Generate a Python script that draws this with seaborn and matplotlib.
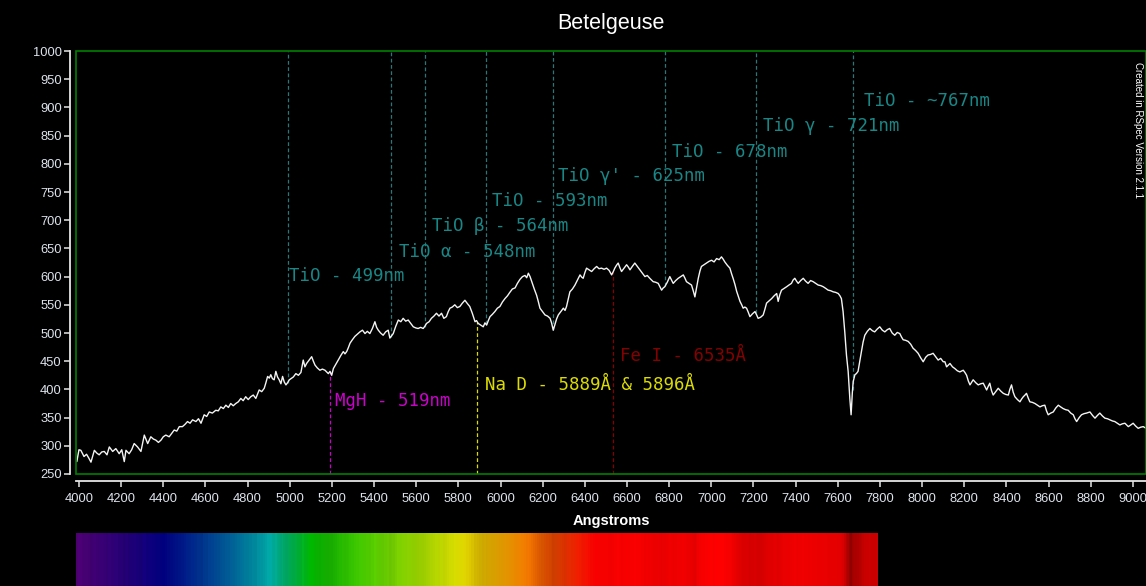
import numpy as np
import matplotlib
matplotlib.use("Agg")
import matplotlib.pyplot as plt
from matplotlib.patches import Rectangle
import seaborn as sns

# Betelgeuse spectrum: wavelength (Angstrom) and relative flux
wavelength = [
    3990, 4000, 4009, 4024, 4036, 4047, 4057, 4073, 4085, 4096, 4108, 4120, 4133, 4144, 4160,
    4175, 4191, 4203, 4215, 4223, 4238, 4250, 4262, 4278, 4294, 4310, 4326, 4341, 4353, 4365,
    4377, 4389, 4400, 4412, 4428, 4440, 4452, 4464, 4476, 4491, 4503, 4515, 4527, 4539, 4555,
    4567, 4579, 4594, 4606, 4618, 4633, 4649, 4661, 4673, 4685, 4697, 4709, 4720, 4732, 4744,
    4756, 4768, 4779, 4791, 4803, 4815, 4827, 4839, 4855, 4867, 4879, 4887, 4895, 4903, 4910,
    4918, 4926, 4934, 4942, 4950, 4958, 4966, 4974, 4982, 4990, 4998, 5009, 5017, 5029, 5041,
    5053, 5064, 5072, 5080, 5092, 5104, 5112, 5120, 5131, 5143, 5155, 5167, 5175, 5183, 5191,
    5199, 5207, 5218, 5230, 5242, 5254, 5262, 5270, 5278, 5286, 5297, 5309, 5321, 5333, 5345,
    5357, 5368, 5380, 5392, 5404, 5412, 5420, 5431, 5443, 5455, 5467, 5475, 5483, 5491, 5503,
    5515, 5527, 5538, 5550, 5562, 5574, 5586, 5598, 5609, 5621, 5633, 5641, 5649, 5661, 5672,
    5684, 5696, 5708, 5720, 5731, 5743, 5752, 5760, 5771, 5783, 5795, 5807, 5819, 5831, 5843,
    5854, 5866, 5879, 5886, 5894, 5906, 5918, 5926, 5934, 5942, 5950, 5961, 5973, 5985, 5997,
    6009, 6021, 6033, 6044, 6056, 6069, 6080, 6092, 6104, 6116, 6124, 6132, 6140, 6148, 6160,
    6171, 6179, 6187, 6199, 6211, 6223, 6235, 6242, 6250, 6258, 6266, 6274, 6286, 6298, 6306,
    6313, 6321, 6329, 6341, 6353, 6365, 6377, 6385, 6392, 6400, 6408, 6420, 6432, 6444, 6456,
    6467, 6479, 6491, 6503, 6515, 6527, 6535, 6542, 6550, 6558, 6566, 6574, 6586, 6598, 6606,
    6614, 6625, 6637, 6649, 6661, 6673, 6685, 6696, 6708, 6716, 6724, 6736, 6748, 6756, 6764,
    6772, 6779, 6791, 6803, 6811, 6819, 6831, 6843, 6855, 6867, 6875, 6882, 6894, 6906, 6914,
    6922, 6930, 6938, 6946, 6953, 6965, 6977, 6989, 7001, 7013, 7025, 7037, 7048, 7056, 7064,
    7076, 7088, 7096, 7104, 7112, 7120, 7128, 7136, 7144, 7151, 7159, 7167, 7175, 7183, 7195,
    7207, 7215, 7222, 7234, 7246, 7254, 7262, 7274, 7286, 7298, 7310, 7317, 7325, 7333, 7345,
    7357, 7368, 7380, 7388, 7396, 7404, 7412, 7424, 7436, 7447, 7459, 7471, 7483, 7495, 7507,
    7519, 7531, 7543, 7554, 7566, 7578, 7590, 7602, 7610, 7617, 7625, 7633, 7641, 7649, 7657,
    7663, 7669, 7673, 7681, 7688, 7696, 7704, 7712, 7720, 7728, 7740, 7752, 7764, 7775, 7787,
    7799, 7811, 7823, 7835, 7846, 7858, 7870, 7882, 7894, 7902, 7910, 7922, 7934, 7946, 7957,
    7969, 7981, 7993, 8005, 8017, 8028, 8040, 8052, 8064, 8076, 8088, 8100, 8108, 8116, 8132,
    8144, 8155, 8167, 8179, 8195, 8203, 8211, 8219, 8227, 8235, 8242, 8254, 8266, 8278, 8290,
    8298, 8306, 8313, 8321, 8329, 8337, 8349, 8361, 8373, 8385, 8397, 8409, 8416, 8424, 8432,
    8440, 8452, 8464, 8472, 8480, 8488, 8495, 8503, 8511, 8523, 8535, 8547, 8559, 8570, 8582,
    8590, 8598, 8610, 8622, 8634, 8646, 8657, 8669, 8681, 8693, 8705, 8717, 8725, 8733, 8745,
    8756, 8768, 8780, 8788, 8796, 8808, 8820, 8832, 8843, 8855, 8867, 8879, 8891, 8903, 8914,
    8926, 8938, 8950, 8962, 8970, 8978, 8990, 9001, 9013, 9025, 9037, 9049, 9062,
]
flux = [
    272, 293, 292, 281, 285, 278, 271, 292, 287, 284, 289, 290, 284, 298, 290,
    295, 286, 293, 272, 292, 286, 293, 304, 298, 290, 319, 304, 316, 312, 310,
    306, 310, 316, 319, 316, 322, 328, 326, 334, 334, 338, 343, 340, 346, 343,
    348, 340, 355, 352, 360, 358, 363, 362, 369, 366, 372, 368, 375, 371, 375,
    378, 384, 380, 387, 382, 387, 390, 384, 399, 396, 402, 412, 423, 420, 426,
    419, 417, 432, 422, 417, 410, 423, 413, 408, 412, 417, 420, 422, 428, 425,
    430, 452, 440, 446, 452, 458, 450, 443, 438, 434, 436, 434, 431, 428, 432,
    425, 437, 444, 452, 460, 467, 463, 467, 474, 482, 488, 494, 498, 502, 505,
    499, 503, 499, 508, 520, 510, 505, 500, 496, 502, 505, 491, 495, 499, 512,
    523, 520, 526, 521, 523, 517, 511, 509, 508, 510, 508, 512, 517, 520, 526,
    530, 535, 530, 535, 526, 529, 538, 544, 546, 550, 545, 547, 553, 558, 552,
    547, 535, 520, 522, 517, 514, 511, 518, 514, 522, 529, 533, 538, 544, 547,
    555, 561, 566, 572, 578, 580, 588, 595, 600, 602, 598, 606, 600, 591, 578,
    567, 556, 544, 538, 532, 530, 526, 518, 505, 515, 525, 532, 538, 544, 540,
    547, 560, 573, 578, 585, 594, 603, 599, 597, 607, 615, 612, 609, 614, 618,
    614, 615, 613, 615, 611, 603, 609, 615, 620, 624, 616, 609, 615, 621, 617,
    612, 618, 624, 618, 612, 606, 600, 602, 597, 594, 591, 590, 588, 582, 576,
    580, 582, 590, 600, 594, 588, 593, 597, 600, 603, 597, 591, 588, 585, 575,
    564, 580, 597, 610, 618, 621, 624, 627, 629, 626, 632, 630, 635, 631, 626,
    620, 615, 605, 596, 586, 574, 565, 556, 550, 544, 546, 544, 537, 529, 534,
    538, 532, 526, 528, 532, 542, 553, 557, 561, 566, 570, 556, 568, 576, 579,
    582, 585, 588, 594, 597, 592, 588, 593, 597, 592, 588, 593, 591, 588, 585,
    584, 582, 579, 576, 575, 573, 572, 570, 566, 561, 538, 502, 461, 432, 384,
    355, 395, 414, 426, 428, 432, 450, 467, 484, 496, 503, 508, 504, 502, 507,
    511, 505, 502, 506, 508, 500, 496, 501, 499, 493, 488, 487, 485, 480, 473,
    469, 464, 456, 449, 457, 461, 462, 464, 458, 452, 455, 449, 449, 440, 446,
    440, 437, 433, 431, 434, 430, 425, 415, 408, 413, 417, 412, 408, 410, 411,
    405, 399, 405, 411, 398, 390, 396, 402, 397, 393, 391, 390, 400, 408, 395,
    387, 382, 378, 383, 387, 390, 393, 385, 378, 377, 375, 372, 369, 371, 372,
    362, 355, 358, 360, 367, 372, 369, 366, 364, 363, 358, 355, 348, 343, 350,
    355, 357, 358, 359, 360, 354, 349, 354, 358, 353, 349, 348, 346, 344, 343,
    340, 337, 339, 340, 337, 334, 337, 340, 335, 331, 333, 334, 331,
]

# TiO absorption bands (drawn from the top of the plot down to the spectrum)
tio_lines = [4990, 5480, 5640, 5930, 6250, 6780, 7210, 7670]
tio_labels = ["TiO - 499nm", "TiO α - 548nm", "TiO β - 564nm", "TiO - 593nm",
              "TiO γ' - 625nm", "TiO - 678nm", "TiO γ - 721nm", "TiO - ~767nm"]
tio_label_x = [4996, 5518, 5675, 5959, 6272, 6813, 7245, 7724]
tio_label_y = [601, 644, 690, 734, 778, 821, 867, 911]

# Atomic / molecular features (drawn from the spectrum down to the bottom)
element_lines = [5190, 5889, 6535]
element_labels = ["MgH - 519nm", "Na D - 5889Å & 5896Å", "Fe I - 6535Å"]
element_colors = ["#cc00cc", "#dcdc00", "#850000"]
element_label_x = [5214, 5926, 6566]
element_label_y = [379, 408, 459]

y_ticks = list(range(250, 1001, 50))
x_ticks = list(range(4000, 9001, 200))

X_MIN, X_MAX = 3986, 9062
BAR_END = 7790
TIO_TEXT = "#1a8787"
TIO_LINE = "#2e7676"
FRAME_GREEN = "#008000"
TICK_COLOR = "#dde3ec"

sns.set_theme(style="dark", rc={"figure.facecolor": "black", "axes.facecolor": "black",
                                "savefig.facecolor": "black"})
plt.rcParams["font.family"] = ["Liberation Sans", "DejaVu Sans"]

W, H = 1146, 586
fig = plt.figure(figsize=(W / 100, H / 100), dpi=100, facecolor="#000000")
ax = fig.add_axes([76 / W, 1 - 474 / H, 1 - 76 / W, (474 - 51) / H])
ax.set_facecolor("#000000")
ax.grid(False)

sns.lineplot(x=wavelength, y=flux, color="#f4f4f4", linewidth=1.0,
             estimator=None, sort=False, ax=ax)

ax.set_xlim(X_MIN, X_MAX)
ax.set_ylim(250, 1000)

# line markers
tio_bottom = np.interp(tio_lines, wavelength, flux)
ax.vlines(tio_lines, tio_bottom, 1000, colors=TIO_LINE, linewidth=0.9,
          linestyles=(0, (3, 2)), zorder=1)
for lx, ly, txt in zip(tio_label_x, tio_label_y, tio_labels):
    ax.text(lx, ly, txt, color=TIO_TEXT, fontsize=12.5, family="DejaVu Sans Mono",
            ha="left", va="center")

el_top = np.interp(element_lines, wavelength, flux)
for lam, top, col in zip(element_lines, el_top, element_colors):
    ax.vlines(lam, 250, top, colors=col, linewidth=0.9, linestyles=(0, (3, 2)), zorder=1)
for lx, ly, txt, col in zip(element_label_x, element_label_y, element_labels, element_colors):
    ax.text(lx, ly, txt, color=col, fontsize=12.5, family="DejaVu Sans Mono",
            ha="left", va="center")

# green plot frame + detached white axis lines
ax.add_patch(Rectangle((0, 0), 1, 1, transform=ax.transAxes, fill=False,
                       edgecolor=FRAME_GREEN, linewidth=1.2, clip_on=False, zorder=3))
for side in ("top", "right"):
    ax.spines[side].set_visible(False)
for side in ("left", "bottom"):
    ax.spines[side].set_visible(True)
    ax.spines[side].set_color("#e6e6e6")
    ax.spines[side].set_linewidth(1.3)
ax.spines["left"].set_position(("outward", 4.3))
ax.spines["bottom"].set_position(("outward", 5.0))

ax.set_xticks(x_ticks)
ax.set_yticks(y_ticks)
ax.tick_params(axis="both", which="major", direction="out", length=4.5, width=1.1,
               color="#e6e6e6", labelcolor=TICK_COLOR, labelsize=9.3, pad=1.5,
               bottom=True, left=True)
ax.tick_params(axis="x", pad=4)

ax.set_xlabel("Angstroms", color="white", fontsize=10.5, fontweight="bold", labelpad=7)
ax.set_title("Betelgeuse", color="white", fontsize=15.5, pad=16)

fig.text(1138 / W, 1 - 62 / H, "Created in RSpec Version 2.1.1", rotation=270,
         ha="center", va="top", color="white", fontsize=7)


# synthetic colour strip: wavelength hue scaled by the measured flux
def wavelength_rgb(lam):
    nm = lam / 10.0
    if nm < 440:
        r, g, b = (440 - nm) / 60, 0.0, 1.0
    elif nm < 490:
        r, g, b = 0.0, (nm - 440) / 50, 1.0
    elif nm < 510:
        r, g, b = 0.0, 1.0, (510 - nm) / 20
    elif nm < 580:
        r, g, b = (nm - 510) / 70, 1.0, 0.0
    elif nm < 645:
        r, g, b = 1.0, (645 - nm) / 65, 0.0
    else:
        r, g, b = 1.0, 0.0, 0.0
    return np.array([r, g, b])


wl = np.asarray(wavelength, float)
fl = np.asarray(flux, float)
keep = wl <= BAR_END
wl_bar, fl_bar = wl[keep], fl[keep]
edges = np.concatenate([[X_MIN], (wl_bar[:-1] + wl_bar[1:]) / 2, [BAR_END]])
peak = fl.max()
colors = [np.clip(wavelength_rgb(w) * (f / peak), 0, 1) for w, f in zip(wl_bar, fl_bar)]

bar_ax = fig.add_axes([76 / W, 0, 1 - 76 / W, 53 / H])
bar_ax.set_facecolor("#000000")
bar_ax.bar(edges[:-1], 1, width=np.diff(edges), align="edge", color=colors,
           linewidth=0, antialiased=False)
bar_ax.set_xlim(X_MIN, X_MAX)
bar_ax.set_ylim(0, 1)
bar_ax.axis("off")

fig.savefig("out.png", dpi=100, facecolor="#000000")
